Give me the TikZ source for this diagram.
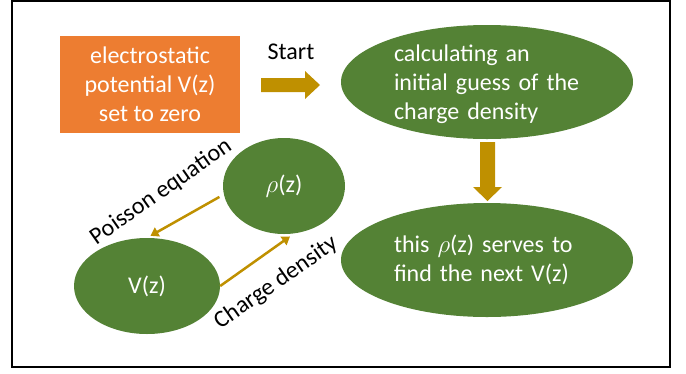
\documentclass[tikz,border=0pt]{standalone}
\usepackage{fontspec}
\setmainfont{Carlito}
\usetikzlibrary{shapes.geometric,arrows.meta}
\definecolor{pgreen}{HTML}{548235}
\definecolor{porange}{HTML}{ED7D31}
\definecolor{pgold}{HTML}{BF9000}
\begin{document}
\begin{tikzpicture}[x=1pt,y=1pt,
  font=\fontsize{24}{29}\selectfont,
  oval/.style={ellipse, fill=pgreen, text=white, inner sep=0pt},
  ovaltext/.style={text=white, align=left, text width=186pt, inner sep=0pt},
  thinarrow/.style={pgold, line width=2.5pt, -{Triangle[length=8pt,width=10pt]}},
  blockarrow/.style={fill=pgold},
  rotlabel/.style={rotate=35, inner sep=0pt}]
\useasboundingbox (0,0) rectangle (686,-373);
\draw[line width=2pt] (12,-1) rectangle (670,-367);
\node[fill=porange, text=white, minimum width=180pt, minimum height=97pt,
      align=center, inner sep=0pt] (init) at (150,-84.5)
      {electrostatic\\potential V(z)\\set to zero};
\node (start) at (291,-52) {Start};
\node[oval, minimum width=292pt, minimum height=114pt] (guess) at (487,-82) {};
\node[ovaltext] (guesstext) at (487,-84) {calculating an\\initial guess of the\\charge density};
\node[oval, minimum width=292pt, minimum height=114pt] (next) at (487,-260) {};
\node[ovaltext] (nexttext) at (487,-260) {this $\rho$(z) serves to\\find the next V(z)};
\node[oval, minimum width=122pt, minimum height=96pt] (rho) at (284,-186) {$\rho$(z)};
\node[oval, minimum width=146pt, minimum height=96pt] (V) at (147,-286) {V(z)};
\fill[blockarrow] (261,-78) -- (305,-78) -- (305,-71) -- (320,-85) -- (305,-99) -- (305,-92) -- (261,-92) -- cycle;
\fill[blockarrow] (480,-142) -- (495,-142) -- (495,-187) -- (502,-187) -- (487.5,-201) -- (473,-187) -- (480,-187) -- cycle;
\draw[thinarrow, shorten <=5pt, shorten >=4pt] (rho.188) -- (V.north);
\draw[thinarrow, shorten >=5pt] (V.east) -- (rho.-78);
\node[rotlabel] (plabel) at (161,-192) {Poisson equation};
\node[rotlabel] (clabel) at (276,-283) {Charge density};
\end{tikzpicture}
\end{document}
